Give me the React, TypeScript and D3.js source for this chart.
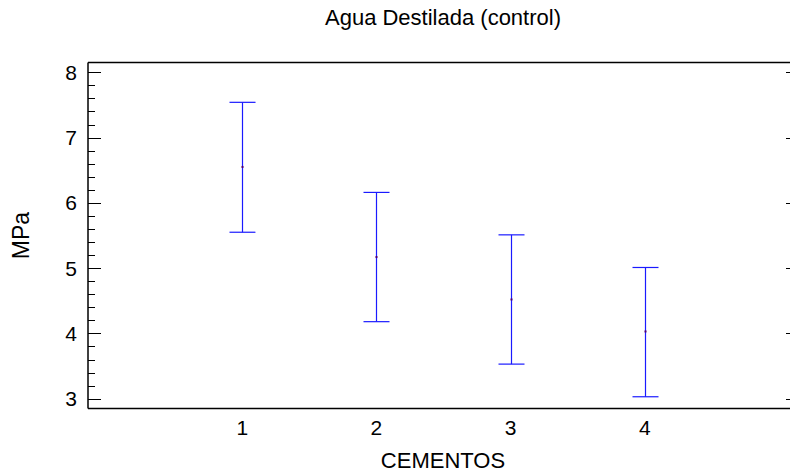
import React from "react";
import * as d3 from "d3";

// Cement groups and their mean strength with interval bounds (MPa)
const cementos = [1, 2, 3, 4];
const medias = [6.55, 5.17, 4.52, 4.03];
const limiteInferior = [5.55, 4.18, 3.53, 3.03];
const limiteSuperior = [7.54, 6.16, 5.51, 5.01];
const yMajorTicks = [3, 4, 5, 6, 7, 8];

const W = 790;
const H = 472;
const plot = { left: 88, right: 799, top: 62.5, bottom: 408.5 };
const FONT = "'Liberation Sans', Arial, sans-serif";
const BLUE = "#1a1aff";

export default function App() {
  const x = d3.scaleLinear().domain([-0.15, 5.15]).range([plot.left, plot.right]);
  const y = d3.scaleLinear().domain([2.85, 8.15]).range([plot.bottom, plot.top]);
  const minorTicks = d3.range(30, 82, 2).map((v) => v / 10).filter((v) => v >= 2.85 && v <= 8.15);
  const capHalf = 13;
  const py = (v: number) => Math.round(y(v)) + 0.5;

  return (
    <svg
      width={W}
      height={H}
      style={{ position: "absolute", left: 0, top: 0, background: "#fff" }}
      fontFamily={FONT}
    >
      <text x={443} y={25} textAnchor="middle" fontSize={22} fill="#000">
        Agua Destilada (control)
      </text>

      {/* frame: left axis, top and bottom lines */}
      <g stroke="#000" strokeWidth={1.5} fill="none">
        <line x1={plot.left} x2={plot.left} y1={plot.top} y2={plot.bottom} />
        <line x1={plot.left} x2={plot.right} y1={plot.top} y2={plot.top} />
        <line x1={plot.left} x2={plot.right} y1={plot.bottom} y2={plot.bottom} />
        <line x1={plot.right} x2={plot.right} y1={plot.top} y2={plot.bottom} />
      </g>

      {/* value axis ticks */}
      <g stroke="#000" strokeWidth={1}>
        {minorTicks.map((v) => (
          <line key={"m" + v} x1={plot.left} x2={plot.left + 7} y1={py(v)} y2={py(v)} />
        ))}
        {yMajorTicks.map((v) => (
          <line key={"M" + v} x1={plot.left} x2={plot.left + 13} y1={py(v)} y2={py(v)} />
        ))}
        {yMajorTicks.map((v) => (
          <line key={"R" + v} x1={plot.right - 13} x2={plot.right} y1={py(v)} y2={py(v)} />
        ))}
      </g>
      <g fontSize={21} fill="#000" textAnchor="end">
        {yMajorTicks.map((v) => (
          <text key={v} x={77} y={y(v) + 7.5}>
            {v}
          </text>
        ))}
      </g>

      {/* category labels */}
      <g fontSize={21} fill="#000" textAnchor="middle">
        {cementos.map((c) => (
          <text key={c} x={x(c)} y={435}>
            {c}
          </text>
        ))}
      </g>

      <text x={443} y={468} textAnchor="middle" fontSize={22} fill="#000">
        CEMENTOS
      </text>
      <text
        transform={`translate(29, ${y(5.5)}) rotate(-90)`}
        textAnchor="middle"
        fontSize={23}
        fill="#000"
      >
        MPa
      </text>

      {/* interval bars */}
      <g stroke={BLUE} strokeWidth={1.2}>
        {cementos.map((c, i) => {
          const cx = Math.round(x(c)) + 0.5;
          return (
            <g key={c}>
              <line x1={cx} x2={cx} y1={y(limiteSuperior[i])} y2={y(limiteInferior[i])} />
              <line x1={cx - capHalf} x2={cx + capHalf} y1={y(limiteSuperior[i])} y2={y(limiteSuperior[i])} />
              <line x1={cx - capHalf} x2={cx + capHalf} y1={y(limiteInferior[i])} y2={y(limiteInferior[i])} />
            </g>
          );
        })}
      </g>
      <g fill="#500070">
        {cementos.map((c, i) => (
          <rect key={c} x={Math.round(x(c)) - 0.5} y={y(medias[i]) - 1} width={2} height={2} />
        ))}
      </g>
    </svg>
  );
}
